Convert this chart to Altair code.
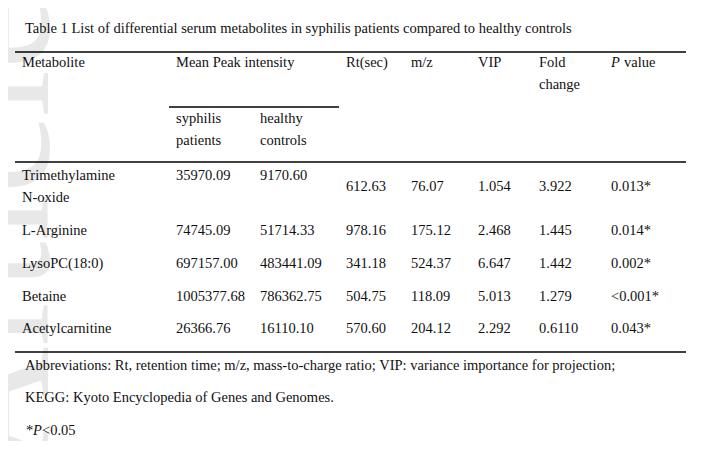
import altair as alt
import pandas as pd

# ---------------- data ----------------
title_text = "Table 1 List of differential serum metabolites in syphilis patients compared to healthy controls"
header_cols = ["Metabolite", "Mean Peak intensity", "Rt(sec)", "m/z", "VIP", "Fold change"]
p_header = ["P", "value"]
sub_headers = ["syphilis patients", "healthy controls"]
metabolites = ["Trimethylamine N-oxide", "L-Arginine", "LysoPC(18:0)", "Betaine", "Acetylcarnitine"]
syphilis_patients = ["35970.09", "74745.09", "697157.00", "1005377.68", "26366.76"]
healthy_controls = ["9170.60", "51714.33", "483441.09", "786362.75", "16110.10"]
rt_sec = ["612.63", "978.16", "341.18", "504.75", "570.60"]
mz = ["76.07", "175.12", "524.37", "118.09", "204.12"]
vip = ["1.054", "2.468", "6.647", "5.013", "2.292"]
fold_change = ["3.922", "1.445", "1.442", "1.279", "0.6110"]
p_value = ["0.013*", "0.014*", "0.002*", "<0.001*", "0.043*"]
footnotes = [
    "Abbreviations: Rt, retention time; m/z, mass-to-charge ratio; VIP: variance importance for projection;",
    "KEGG: Kyoto Encyclopedia of Genes and Genomes.",
]
sig_note = ["*", "P", "<0.05"]
watermark = "Article"

WRAPPED = {"Fold change", "syphilis patients", "healthy controls", "Trimethylamine N-oxide"}

# ---------------- layout (page pixels, minus 8px margin) ----------------
W, H = 693, 433
M = 8
FS = 14.5
col_x = [22, 176, 260, 346, 411, 478, 539, 611]
LH = 22
header_y = 63
sub_y = 119
row_y = [176, 231, 264, 297, 329]
row1_mid = 187
foot_y = [366, 398, 431]

cells = []


def add(text, x, y, style="normal"):
    cells.append({"text": text, "x": x - M, "y": y - M, "style": style})


def add_lines(text, x, y):
    lines = text.split(" ") if text in WRAPPED else [text]
    for i, ln in enumerate(lines):
        add(ln, x, y + i * LH)


add(title_text, 25, 29)
hx = [col_x[0], col_x[1], col_x[3], col_x[4], col_x[5], col_x[6]]
for name, x in zip(header_cols, hx):
    add_lines(name, x, header_y)
add(p_header[0], col_x[7], header_y, "italic")
add(p_header[1], col_x[7] + 13, header_y)
for name, x in zip(sub_headers, [col_x[1], col_x[2]]):
    add_lines(name, x, sub_y)

other_cols = [rt_sec, mz, vip, fold_change, p_value]
for i, name in enumerate(metabolites):
    y = row_y[i]
    add_lines(name, col_x[0], y)
    add(syphilis_patients[i], col_x[1], y)
    add(healthy_controls[i], col_x[2], y)
    ym = row1_mid if i == 0 else y
    for j, col in enumerate(other_cols):
        add(col[i], col_x[3 + j], ym)

for t, y in zip(footnotes, foot_y[:2]):
    add(t, 25, y)
add(sig_note[0], 26, foot_y[2])
add(sig_note[1], 33, foot_y[2], "italic")
add(sig_note[2], 42, foot_y[2])

df = pd.DataFrame(cells)

rules = pd.DataFrame([
    {"x": 15 - M, "x2": 686 - M, "y": 52 - M},
    {"x": 169 - M, "x2": 339 - M, "y": 107 - M},
    {"x": 15 - M, "x2": 686 - M, "y": 162 - M},
    {"x": 15 - M, "x2": 686 - M, "y": 352 - M},
])

wm = pd.DataFrame([{"text": watermark, "x": 48 - M, "y": 232 - M}])

xs = alt.Scale(domain=[0, W], range=[0, W], nice=False, zero=False)
ys = alt.Scale(domain=[0, H], range=[0, H], nice=False, zero=False)

wm_layer = alt.Chart(wm).mark_text(
    font="Liberation Serif", fontSize=172, angle=270, align="center",
    baseline="alphabetic", color="#e8e8e8"
).encode(
    x=alt.X("x:Q", scale=xs, axis=None),
    y=alt.Y("y:Q", scale=ys, axis=None),
    text="text:N",
)

base = alt.Chart(df).encode(
    x=alt.X("x:Q", scale=xs, axis=None),
    y=alt.Y("y:Q", scale=ys, axis=None),
    text="text:N",
)
normal_layer = base.transform_filter(alt.datum.style == "normal").mark_text(
    font="Liberation Serif", fontSize=FS, align="left", baseline="middle", color="#111111"
)
italic_layer = base.transform_filter(alt.datum.style == "italic").mark_text(
    font="Liberation Serif", fontSize=FS, fontStyle="italic", align="left",
    baseline="middle", color="#111111"
)

rule_layer = alt.Chart(rules).mark_rule(color="#000000", strokeWidth=1.3).encode(
    x=alt.X("x:Q", scale=xs, axis=None),
    x2="x2:Q",
    y=alt.Y("y:Q", scale=ys, axis=None),
)

chart = alt.layer(wm_layer, rule_layer, normal_layer, italic_layer).properties(
    width=W, height=H, padding=0, background="white",
    autosize=alt.AutoSizeParams(type="none"),
).configure_view(stroke=None)

chart.save("out.html", embed_options={"renderer": "svg", "actions": False})
